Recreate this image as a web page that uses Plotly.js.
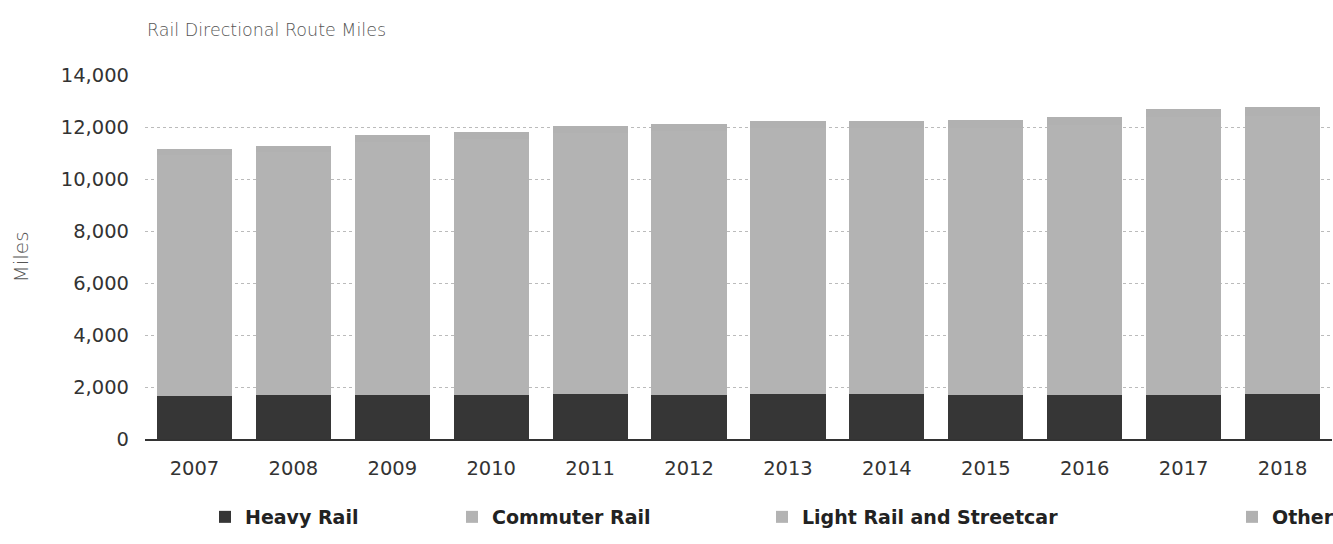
<!DOCTYPE html>
<html>
<head>
<meta charset="utf-8">
<script src="https://cdn.plot.ly/plotly-3.0.1.min.js"></script>
<style>html,body{margin:0;padding:0;background:#fff;}#chart{width:1333px;height:544px;}</style>
</head>
<body>
<div id="chart"></div>
<script>
const years = ['2007','2008','2009','2010','2011','2012','2013','2014','2015','2016','2017','2018'];
const heavyRail = [1660,1700,1700,1700,1720,1690,1720,1720,1700,1700,1700,1720];
const commuterRail = [7920,7940,8250,8320,8440,8510,8530,8510,8490,8530,8720,8720];
const lightRail = [1350,1400,1480,1520,1600,1650,1700,1720,1760,1850,1950,2000];
const other = [220,230,250,260,270,280,300,300,310,320,330,340];
const yTicks = [0,2000,4000,6000,8000,10000,12000,14000];

const seriesNames = ['Heavy Rail','Commuter Rail','Light Rail and Streetcar','Other'];
const seriesValues = [heavyRail, commuterRail, lightRail, other];
const seriesColors = ['#363636','#b3b3b3','#b3b3b3','#b1b1b1'];
const legendIds = ['legend','legend2','legend3','legend4'];
const legendX = [205, 452, 762, 1232];

const traces = seriesNames.map((n,i)=>({
  type:'bar', name:n, x:years, y:seriesValues[i],
  marker:{color:seriesColors[i], line:{width:0}},
  legend: legendIds[i], hoverinfo:'x+y+name'
}));

const legendFont = {family:'DejaVu Sans', size:19, color:'#222', weight:'bold'};
const layout = {
  width:1333, height:544,
  margin:{l:145, r:1, t:75, b:104.5},
  paper_bgcolor:'#fff', plot_bgcolor:'#fff',
  barmode:'stack', bargap:0.24,
  title:{text:'Rail Directional Route Miles', x:147/1333, xanchor:'left', xref:'container',
         y:1-30/544, yanchor:'middle', yref:'container',
         font:{family:'DejaVu Sans', size:17.5, color:'#555', weight:200}},
  xaxis:{type:'category', showgrid:false, showline:true, linecolor:'#333', linewidth:1.5,
         ticks:'', ticklabelstandoff:11,
         tickfont:{family:'DejaVu Sans', size:19.5, color:'#333'}},
  yaxis:{range:[0,14000], tickvals:yTicks, tickformat:',d', showgrid:true,
         gridcolor:'#bbbbbb', griddash:'dot', gridwidth:1, zeroline:false,
         ticks:'', ticklabelstandoff:15,
         tickfont:{family:'DejaVu Sans', size:19.5, color:'#333'},
         title:{text:'Miles', standoff:26, font:{family:'DejaVu Sans', size:20, color:'#555', weight:200}}},
  showlegend:true
};
legendIds.forEach((id,i)=>{
  layout[id] = {x:legendX[i]/1333, xref:'container', xanchor:'left',
                y:1-517/544, yref:'container', yanchor:'middle',
                orientation:'h', font:legendFont, bgcolor:'rgba(0,0,0,0)',
                itemwidth:30};
});
Plotly.newPlot('chart', traces, layout, {displayModeBar:false, responsive:false});
</script>
</body>
</html>
